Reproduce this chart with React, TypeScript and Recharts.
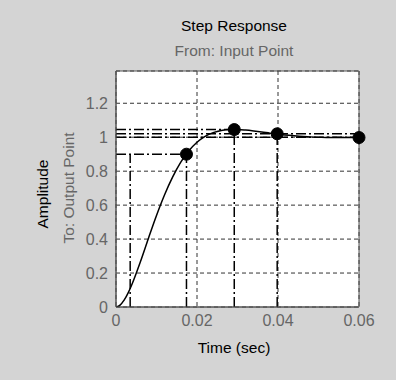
import React from "react";
import {
  ComposedChart,
  Line,
  XAxis,
  YAxis,
  CartesianGrid,
  ReferenceLine,
  ReferenceDot,
  ReferenceArea,
} from "recharts";

// Sampled step response (time in seconds, amplitude)
const times = [0, 0.001, 0.002, 0.003, 0.004, 0.006, 0.008, 0.010, 0.012, 0.014, 0.016, 0.018, 0.020, 0.022, 0.024, 0.026, 0.028, 0.030, 0.032, 0.034, 0.036, 0.038, 0.040, 0.044, 0.048, 0.052, 0.056, 0.060];
const amplitude = [0, 0.011, 0.04, 0.083, 0.137, 0.265, 0.404, 0.539, 0.661, 0.766, 0.853, 0.920, 0.970, 1.005, 1.027, 1.040, 1.045, 1.045, 1.042, 1.037, 1.031, 1.024, 1.018, 1.009, 1.002, 0.999, 0.998, 0.998];

// Characteristic markers: rise (90%), peak, settling, steady state
const markerTimes = [0.0174, 0.0292, 0.0398, 0.06];
const markerValues = [0.9, 1.045, 1.02, 0.998];

// Rise-time 10% instant
const riseStartTime = 0.0035;
const settleBand = [1.02, 1.0];

const xTicks = [0, 0.02, 0.04, 0.06];
const yTicks = [0, 0.2, 0.4, 0.6, 0.8, 1, 1.2];
const xTickLabels = ["0", "0.02", "0.04", "0.06"];
const yTickLabels = ["0", "0.2", "0.4", "0.6", "0.8", "1", "1.2"];

const data = times.map((t, i) => ({ t, y: amplitude[i] }));

const DASHDOT = "10 3 2 3";
const LW = 1.5;
const FONT = "'Liberation Sans', Arial, sans-serif";

export default function App() {
  const riseT = markerTimes[0];
  const peakT = markerTimes[1];
  const settleT = markerTimes[2];
  const endT = xTicks[xTicks.length - 1];
  const W = 396;
  const H = 380;
  return (
    <div
      style={{
        position: "absolute",
        left: 0,
        top: 0,
        width: W,
        height: H,
        background: "#d4d4d4",
        fontFamily: FONT,
      }}
    >
      <ComposedChart
        width={W}
        height={H}
        data={data}
        margin={{ top: 71, right: 37, bottom: 43, left: 0 }}
      >
        <CartesianGrid fill="#ffffff" stroke="#333" strokeDasharray="4 3" />
        <XAxis
          dataKey="t"
          type="number"
          domain={[0, 0.06]}
          ticks={xTicks}
          tickFormatter={(v: number) => xTickLabels[xTicks.indexOf(v)] ?? String(v)}
          tickLine={false}
          tickSize={0}
          tickMargin={8}
          height={30}
          axisLine={{ stroke: "#555" }}
          tick={{ fill: "#666", fontSize: 16, fontFamily: FONT }}
          allowDataOverflow
        />
        <YAxis
          type="number"
          domain={[0, 1.39]}
          ticks={yTicks}
          tickFormatter={(v: number) => yTickLabels[yTicks.indexOf(v)] ?? String(v)}
          tickLine={false}
          tickSize={0}
          tickMargin={8}
          width={116}
          axisLine={{ stroke: "#555" }}
          tick={{ fill: "#666", fontSize: 16, fontFamily: FONT }}
          allowDataOverflow
        />
        {/* rise time */}
        <ReferenceLine
          segment={[{ x: 0, y: markerValues[0] }, { x: riseT, y: markerValues[0] }]}
          stroke="#000"
          strokeDasharray={DASHDOT}
          strokeWidth={LW}
        />
        <ReferenceLine
          segment={[{ x: riseStartTime, y: 0 }, { x: riseStartTime, y: markerValues[0] }]}
          stroke="#000"
          strokeDasharray={DASHDOT}
          strokeWidth={LW}
        />
        <ReferenceLine
          segment={[{ x: riseT, y: 0 }, { x: riseT, y: markerValues[0] }]}
          stroke="#000"
          strokeDasharray={DASHDOT}
          strokeWidth={LW}
        />
        {/* peak */}
        <ReferenceLine
          segment={[{ x: 0, y: markerValues[1] }, { x: peakT, y: markerValues[1] }]}
          stroke="#000"
          strokeDasharray={DASHDOT}
          strokeWidth={LW}
        />
        <ReferenceLine
          segment={[{ x: peakT, y: 0 }, { x: peakT, y: markerValues[1] }]}
          stroke="#000"
          strokeDasharray={DASHDOT}
          strokeWidth={LW}
        />
        {/* settling */}
        <ReferenceLine
          segment={[{ x: settleT, y: 0 }, { x: settleT, y: markerValues[2] }]}
          stroke="#000"
          strokeDasharray={DASHDOT}
          strokeWidth={LW}
        />
        {settleBand.map((v, i) => (
          <ReferenceLine
            key={"band" + i}
            segment={[{ x: 0, y: v }, { x: endT, y: v }]}
            stroke="#000"
            strokeDasharray={DASHDOT}
            strokeWidth={LW}
          />
        ))}
        <Line
          dataKey="y"
          type="monotone"
          stroke="#000"
          strokeWidth={1.5}
          dot={false}
          activeDot={false}
          isAnimationActive={false}
        />
        {markerTimes.map((t, i) => (
          <ReferenceDot
            key={"m" + i}
            x={t}
            y={markerValues[i]}
            r={6}
            fill="#000"
            stroke="#000"
            ifOverflow="visible"
          />
        ))}
        <ReferenceArea
          x1={0}
          x2={0.06}
          y1={0}
          y2={1.39}
          fill="none"
          stroke="#555"
          strokeWidth={1}
          ifOverflow="visible"
        />
      </ComposedChart>
      <div
        style={{
          position: "absolute",
          left: 0,
          width: 468,
          top: 17,
          textAlign: "center",
          fontSize: 15.5,
          color: "#000",
          lineHeight: "18px",
        }}
      >
        Step Response
      </div>
      <div
        style={{
          position: "absolute",
          left: 0,
          width: 468,
          top: 42,
          textAlign: "center",
          fontSize: 15.5,
          color: "#666",
          lineHeight: "18px",
        }}
      >
        From: Input Point
      </div>
      <div
        style={{
          position: "absolute",
          left: 0,
          width: 468,
          top: 339,
          textAlign: "center",
          fontSize: 15.5,
          color: "#000",
          lineHeight: "18px",
        }}
      >
        Time (sec)
      </div>
      <div
        style={{
          position: "absolute",
          left: 43 - 60,
          top: 194 - 9,
          width: 120,
          textAlign: "center",
          fontSize: 15.5,
          lineHeight: "18px",
          color: "#000",
          transform: "rotate(-90deg)",
        }}
      >
        Amplitude
      </div>
      <div
        style={{
          position: "absolute",
          left: 69 - 80,
          top: 188 - 9,
          width: 160,
          textAlign: "center",
          fontSize: 15.5,
          lineHeight: "18px",
          color: "#666",
          transform: "rotate(-90deg)",
        }}
      >
        To: Output Point
      </div>
    </div>
  );
}
